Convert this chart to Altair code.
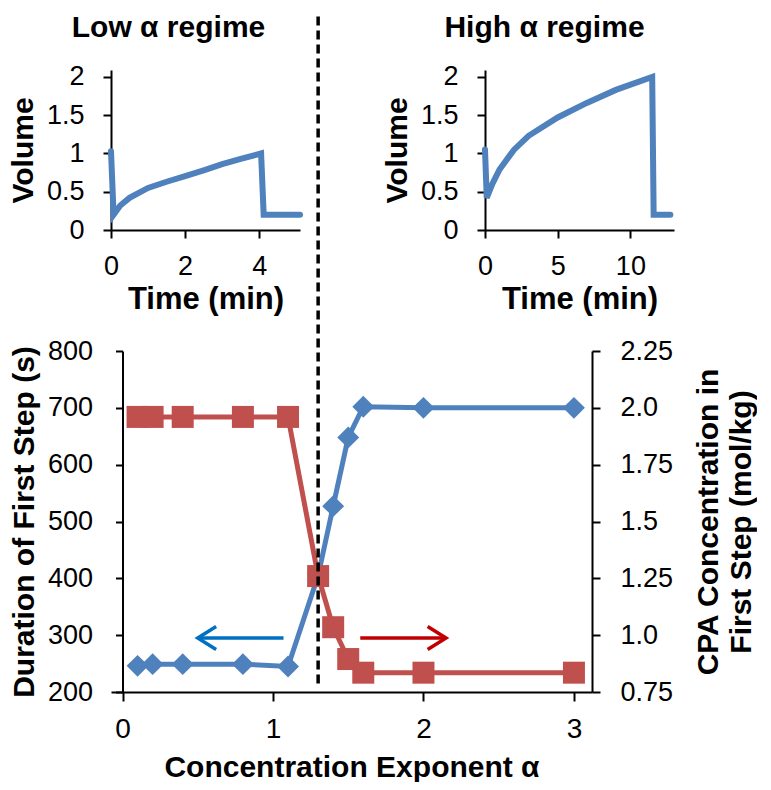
import altair as alt
import pandas as pd

# ---- data ----
alpha = [0.1, 0.2, 0.4, 0.8, 1.1, 1.3, 1.4, 1.5, 1.6, 2.0, 3.0]
duration_s = [246, 249, 249, 249, 245, 405, 527, 648, 702, 700, 700]
cpa_conc = [1.96, 1.96, 1.96, 1.96, 1.96, 1.26, 1.035, 0.895, 0.835, 0.835, 0.835]

low_time = [0, 0.07, 0.25, 0.5, 1.0, 1.5, 2.0, 2.5, 3.0, 3.5, 4.05, 4.12, 5.1]
low_volume = [1.03, 0.2, 0.32, 0.42, 0.55, 0.63, 0.705, 0.78, 0.86, 0.93, 1.0, 0.2, 0.2]

high_time = [0, 0.12, 0.5, 1.0, 2.0, 3.0, 5.0, 7.0, 9.0, 11.5, 11.6, 12.75]
high_volume = [1.05, 0.42, 0.6, 0.79, 1.05, 1.23, 1.47, 1.66, 1.83, 2.0, 0.2, 0.2]

divider_alpha = [1.3]
divider_bottom = [215]

arrow_level = [295]
blue_arrow_tip = [0.5]
blue_arrow_tail = [1.07]
red_arrow_tail = [1.58]
red_arrow_tip = [2.15]

BLUE = "#4F81BD"
RED = "#C0504D"
ARROW_BLUE = "#0070C0"
ARROW_RED = "#C00000"
FONT = "Liberation Sans"

# ---- top panels ----
def volume_panel(times, vols, title, xdom, xticks, dx):
    df = pd.DataFrame({"t": times, "v": vols, "i": list(range(len(times)))})
    return (
        alt.Chart(df, title=alt.TitleParams(title, font=FONT, fontSize=30, fontWeight="bold",
                                            anchor="middle", frame="group", dx=dx, offset=20,
                                            color="black"))
        .mark_line(color=BLUE, strokeWidth=6, strokeCap="round")
        .encode(
            x=alt.X("t:Q", scale=alt.Scale(domain=xdom, nice=False, zero=False),
                    axis=alt.Axis(values=xticks, title="Time (min)", titleFontSize=31,
                                  labelFontSize=27, tickSize=8, labelPadding=15,
                                  titlePadding=5)),
            y=alt.Y("v:Q", scale=alt.Scale(domain=[0, 2.09], nice=False),
                    axis=alt.Axis(values=[0, 0.5, 1, 1.5, 2], format="~g", title="Volume",
                                  titleFontSize=30, labelFontSize=27, tickSize=8,
                                  labelPadding=19, titlePadding=8)),
            order="i:Q",
        )
        .properties(width=189, height=160)
    )

low_panel = volume_panel(low_time, low_volume, "Low \u03b1 regime", [0, 5.1], [0, 2, 4], -37)
high_panel = volume_panel(high_time, high_volume, "High \u03b1 regime", [0, 13.0], [0, 5, 10], -35)

# ---- main chart ----
main_df = pd.DataFrame({"alpha": alpha, "duration": duration_s, "conc": cpa_conc})
x_scale = alt.Scale(domain=[-0.0765, 3.12], nice=False, zero=False)
x_axis = alt.Axis(values=[0, 1, 2, 3], title="Concentration Exponent \u03b1", titleFontSize=30,
                  labelFontSize=28, tickSize=9, labelPadding=14, titlePadding=9)
x_enc = alt.X("alpha:Q", scale=x_scale, axis=x_axis)
left_scale = alt.Scale(domain=[200, 800], nice=False, zero=False)
left_axis = alt.Axis(values=[200, 300, 400, 500, 600, 700, 800], title="Duration of First Step (s)",
                     titleFontSize=30, labelFontSize=27, tickSize=7, labelPadding=23,
                     titlePadding=8, offset=-11.5)
y_left = alt.Y("duration:Q", scale=left_scale, axis=left_axis)

blue_line = alt.Chart(main_df).mark_line(color=BLUE, strokeWidth=5).encode(x=x_enc, y=y_left)
blue_pts = alt.Chart(main_df).mark_point(shape="diamond", filled=True, size=480, color=BLUE,
                                         opacity=1).encode(x=x_enc, y=y_left)

arrows_df = pd.DataFrame({
    "alpha": [blue_arrow_tip[0], red_arrow_tail[0]],
    "alpha2": [blue_arrow_tail[0], red_arrow_tip[0]],
    "duration": [arrow_level[0], arrow_level[0]],
    "which": ["blue", "red"],
})
arrow_color = alt.Color("which:N", scale=alt.Scale(domain=["blue", "red"], range=[ARROW_BLUE, ARROW_RED]),
                        legend=None)
arrow_shafts = alt.Chart(arrows_df).mark_rule(strokeWidth=3.5).encode(
    x=x_enc, x2="alpha2:Q", y=y_left, color=arrow_color)

heads_df = pd.DataFrame({
    "alpha": [blue_arrow_tip[0], red_arrow_tip[0]],
    "duration": [arrow_level[0], arrow_level[0]],
})
head_left = alt.Chart(heads_df.iloc[[0]]).mark_point(
    shape="M1.6,-1L0,0L1.6,1", filled=False, size=529, strokeWidth=3.5, color=ARROW_BLUE,
    opacity=1).encode(x=x_enc, y=y_left)
head_right = alt.Chart(heads_df.iloc[[1]]).mark_point(
    shape="M-1.6,-1L0,0L-1.6,1", filled=False, size=529, strokeWidth=3.5, color=ARROW_RED,
    opacity=1).encode(x=x_enc, y=y_left)

left_group = alt.layer(blue_line, blue_pts, arrow_shafts, head_left, head_right)

conc_labels = "(datum.value * 100) % 10 == 0 ? format(datum.value, '.1f') : format(datum.value, '.2f')"
right_axis = alt.Axis(orient="right", values=[0.75, 1.0, 1.25, 1.5, 1.75, 2.0, 2.25],
                      labelExpr=conc_labels, title=["CPA Concentration in", "First Step (mol/kg)"],
                      titleFontSize=30, labelFontSize=27, tickSize=8, labelPadding=20,
                      titlePadding=-12, titleAngle=270, titleBaseline="top", titleLineHeight=33)
y_right = alt.Y("conc:Q", scale=alt.Scale(domain=[0.75, 2.25], nice=False, zero=False), axis=right_axis)
red_line = alt.Chart(main_df).mark_line(color=RED, strokeWidth=5).encode(x=x_enc, y=y_right)
red_pts = alt.Chart(main_df).mark_point(shape="square", filled=True, size=484, color=RED,
                                        opacity=1).encode(x=x_enc, y=y_right)
right_group = alt.layer(red_line, red_pts)

div_df = pd.DataFrame({"alpha": divider_alpha, "duration": divider_bottom})
divider = alt.Chart(div_df).mark_rule(color="black", strokeWidth=3.5, strokeDash=[9, 5]).encode(
    x=x_enc,
    y=alt.Y("duration:Q", scale=alt.Scale(domain=[200, 800], nice=False, zero=False), axis=None),
    y2=alt.value(-338),
)

main = alt.layer(left_group, right_group, divider).resolve_scale(y="independent").properties(
    width=481, height=341)

# column spacing accounts for the wide main chart sharing column 0
chart = alt.concat(
    low_panel, high_panel, main, columns=2,
    spacing={"row": 121, "column": -107}, align="none", bounds="flush",
).properties(
    padding={"left": 0, "top": 3, "right": 0, "bottom": 0}
).configure_view(stroke=None).configure_axis(
    grid=False, labelFont=FONT, titleFont=FONT, titleFontWeight="bold",
    labelColor="black", titleColor="black", domainColor="black", tickColor="black",
    domainWidth=2, tickWidth=2, labelFlush=False,
)

chart.save("out.html", embed_options={"renderer": "svg", "actions": False})
